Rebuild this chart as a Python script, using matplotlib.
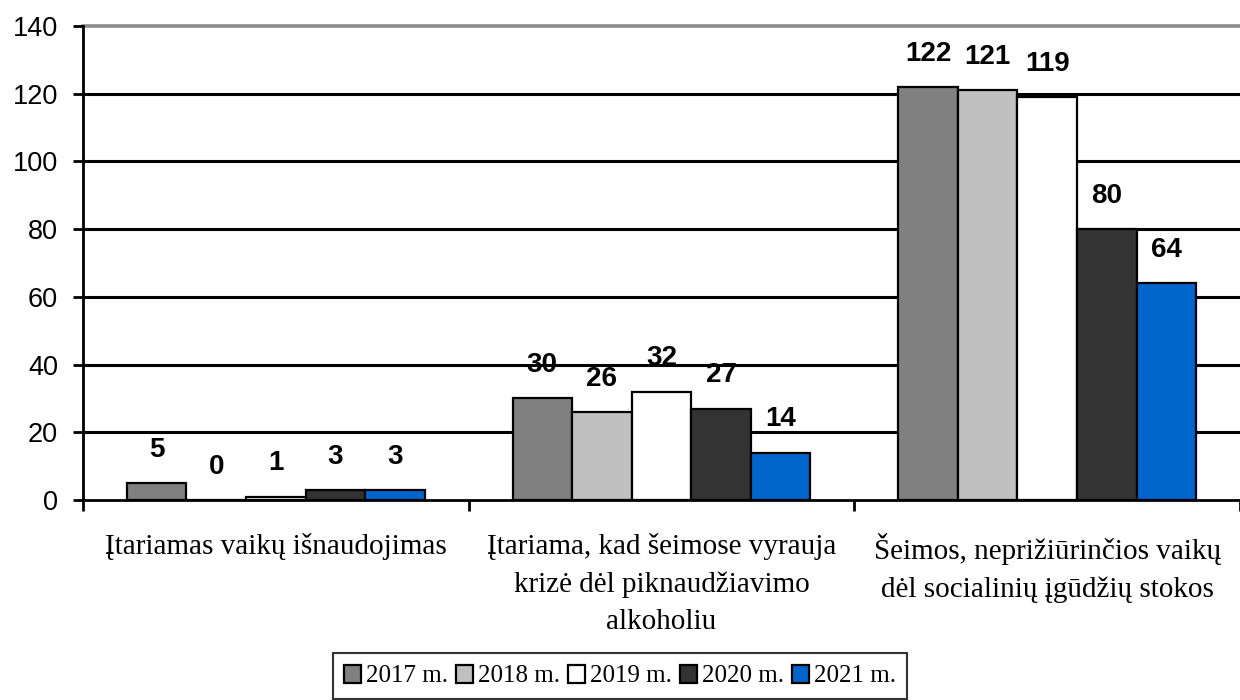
import matplotlib.pyplot as plt
import numpy as np

categories = ['Įtariamas vaikų išnaudojimas',
              'Įtariama, kad šeimose vyrauja\nkrizė dėl piknaudžiavimo\nalkoholiu',
              'Šeimos, neprižiūrinčios vaikų\ndėl socialinių įgūdžių stokos']
years = ['2017 m.', '2018 m.', '2019 m.', '2020 m.', '2021 m.']
v2017 = [5, 30, 122]
v2018 = [0, 26, 121]
v2019 = [1, 32, 119]
v2020 = [3, 27, 80]
v2021 = [3, 14, 64]
colors = ['#808080', '#C0C0C0', '#FFFFFF', '#333333', '#0066CC']

series = [v2017, v2018, v2019, v2020, v2021]

fig = plt.figure(figsize=(12.4, 7), dpi=100)
ax = fig.add_axes([0.0669, 0.2857, 0.9331, 0.6772])

x = np.arange(len(categories))
w = 0.1545
handles = []
for i, (vals, c, lab) in enumerate(zip(series, colors, years)):
    pos = x + (i - 2) * w
    b = ax.bar(pos, vals, w, color=c, edgecolor='black', linewidth=1.6,
               label=lab, zorder=3)
    handles.append(b)
    for px, v in zip(pos, vals):
        ax.annotate(str(v), (px, v), xytext=(0, 24), textcoords='offset points',
                    ha='center', va='center', fontsize=20, fontweight='bold',
                    family='Liberation Sans')

ax.set_xlim(-0.5, 2.5)
ax.set_ylim(0, 140)
ax.set_yticks(range(0, 141, 20))
ax.tick_params(axis='y', labelsize=19.5, length=7, width=2, pad=11)
for t in ax.get_yticklabels():
    t.set_family('Liberation Sans')
for yv in range(20, 121, 20):
    ax.axhline(yv, color='black', lw=2.2, zorder=1)
ax.axhline(140, color='#8c8c8c', lw=2.6, zorder=1, clip_on=False)

ax.set_xticks(x)
ax.set_xticklabels(categories, family='Liberation Serif', fontsize=21,
                   linespacing=1.55, va='top')
ax.tick_params(axis='x', length=0, pad=24)
ax.set_xticks([-0.5, 0.5, 1.5, 2.5], minor=True)
ax.tick_params(axis='x', which='minor', length=8, width=2, direction='out')

for s in ['top', 'right']:
    ax.spines[s].set_visible(False)
ax.spines['left'].set_linewidth(2)
ax.spines['bottom'].set_linewidth(2)
ax.spines['bottom'].set_zorder(4)

leg = fig.legend(handles=handles, loc='lower center', ncol=5,
                 bbox_to_anchor=(0.5, 0.0), frameon=True, fancybox=False,
                 prop={'family': 'Liberation Serif', 'size': 18},
                 handlelength=0.7, handleheight=0.75, handletextpad=0.2,
                 columnspacing=0.3, borderpad=0.45, borderaxespad=0.05)
leg.get_frame().set_edgecolor('black')
leg.get_frame().set_linewidth(1.5)

fig.savefig('out.png', dpi=100)
